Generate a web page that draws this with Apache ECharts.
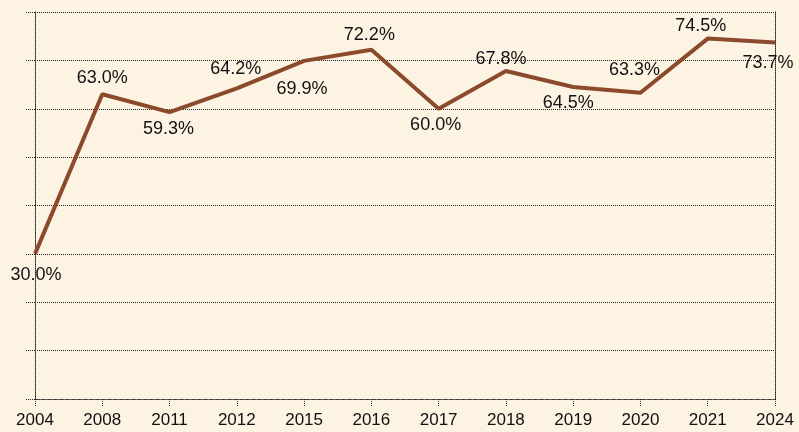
<!DOCTYPE html>
<html><head><meta charset="utf-8">
<script src="https://cdn.jsdelivr.net/npm/echarts@6/dist/echarts.min.js"></script>
<style>html,body{margin:0;padding:0;background:#fdf3e3;}#c{width:799px;height:432px;}</style>
</head><body><div id="c"></div>
<script>
var categories = ['2004','2008','2011','2012','2015','2016','2017','2018','2019','2020','2021','2024'];
var values = [30.0, 63.0, 59.3, 64.2, 69.9, 72.2, 60.0, 67.8, 64.5, 63.3, 74.5, 73.7];
// label placement (pixel offsets from each point), layout only
var labelOffsets = [[1,21],[0,-16],[-1,17],[-1,-19],[-2,28],[-2,-15],[-3,16],[-5,-12],[-5,16],[-6,-23],[-7,-13],[-7,21]];

var data = values.map(function(v,i){
  return {value: v, label: {offset: labelOffsets[i]}};
});
var chart = echarts.init(document.getElementById('c'));
var dotted = {color:'#222', type:'dotted', width:1};
chart.setOption({
  backgroundColor:'#fdf3e3',
  animation:false,
  grid:{left:35, right:24, top:12, bottom:33},
  xAxis:{type:'category', data:categories, boundaryGap:false,
    axisLine:{lineStyle:{color:'#444', type:[2,1], width:1}},
    axisTick:{length:7, lineStyle:dotted},
    axisLabel:{color:'#111', fontSize:17, fontFamily:'Liberation Sans, Arial, sans-serif', margin:13},
    splitLine:{show:false}},
  yAxis:[{type:'value', min:0, max:80, interval:10,
    axisLine:{show:true, lineStyle:dotted},
    axisTick:{show:true, length:10, lineStyle:dotted},
    axisLabel:{show:false},
    splitLine:{show:true, lineStyle:dotted}},
    {type:'value', min:0, max:80, interval:10, position:'right',
    axisLine:{show:true, lineStyle:dotted},
    axisTick:{show:false}, axisLabel:{show:false}, splitLine:{show:false}}],
  series:[{type:'line', data:data, symbol:'circle', symbolSize:2, showSymbol:true,
    itemStyle:{color:'rgba(0,0,0,0)', borderWidth:0},
    lineStyle:{color:'#8b4a2b', width:4},
    label:{show:true, position:'inside', color:'#111', fontSize:18, fontFamily:'Liberation Sans, Arial, sans-serif',
      formatter:function(p){return Number(p.value).toFixed(1)+'%';}}}]
});
</script></body></html>
